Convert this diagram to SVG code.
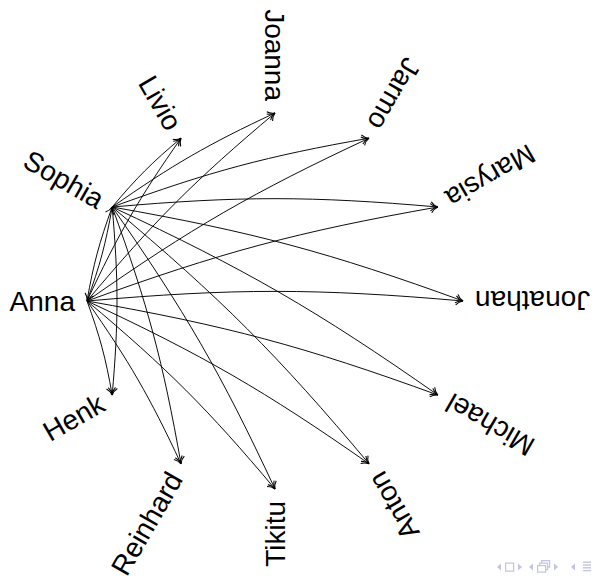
<svg xmlns="http://www.w3.org/2000/svg" width="596" height="581" viewBox="0 0 596 581">
<style>
.lbl{font-family:"Liberation Sans",Arial,Helvetica,sans-serif;font-size:28px;fill:#000;text-anchor:end}
.e{fill:none;stroke:#000;stroke-width:0.95;marker-end:url(#ah)}
.nav{fill:#c4c4e0;stroke:none}
.navs{fill:none;stroke:#c4c4e0;stroke-width:1.2}
</style>
<defs>
<marker id="ah" markerUnits="userSpaceOnUse" markerWidth="12" markerHeight="12" viewBox="-7 -5 9 10" refX="0" refY="0" orient="auto" overflow="visible">
<path d="M-5.8,-3.8 C-4.2,-1.7 -1.6,-0.4 0,0 C-1.6,0.4 -4.2,1.7 -5.8,3.8" fill="none" stroke="#000" stroke-width="0.9"/>
</marker>
</defs>
<rect width="596" height="581" fill="#fff"/>
<g id="edges">
<path class="e" d="M87,301 C93.62,263.48 99.16,242.80 112.19,207"/>
<path class="e" d="M87,301 C118.11,234.30 138.78,198.48 181,138.19"/>
<path class="e" d="M87,301 C153.91,221.26 195.26,179.91 275,113"/>
<path class="e" d="M87,301 C191.43,227.88 253.46,192.06 369,138.19"/>
<path class="e" d="M87,301 C220.61,252.37 297.78,231.69 437.81,207"/>
<path class="e" d="M87,301 C233.64,288.17 316.36,288.17 463,301"/>
<path class="e" d="M87,301 C227.03,325.69 304.20,346.37 437.81,395"/>
<path class="e" d="M87,301 C202.54,354.87 264.57,390.69 369,463.81"/>
<path class="e" d="M87,301 C166.74,367.91 208.09,409.26 275,489"/>
<path class="e" d="M87,301 C129.22,361.29 149.90,397.11 181,463.81"/>
<path class="e" d="M87,301 C100.03,336.80 105.57,357.48 112.19,395"/>
<path class="e" d="M112.19,207 C105.57,244.52 100.03,265.20 87,301"/>
<path class="e" d="M112.19,207 C136.68,177.82 151.82,162.68 181,138.19"/>
<path class="e" d="M112.19,207 C172.48,164.78 208.30,144.11 275,113"/>
<path class="e" d="M112.19,207 C210.00,171.40 266.49,156.26 369,138.19"/>
<path class="e" d="M112.19,207 C239.19,195.89 310.82,195.89 437.81,207"/>
<path class="e" d="M112.19,207 C252.22,231.69 329.39,252.37 463,301"/>
<path class="e" d="M112.19,207 C245.60,269.21 317.23,310.57 437.81,395"/>
<path class="e" d="M112.19,207 C221.11,298.40 277.60,354.89 369,463.81"/>
<path class="e" d="M112.19,207 C185.31,311.43 221.13,373.46 275,489"/>
<path class="e" d="M112.19,207 C147.79,304.81 162.93,361.30 181,463.81"/>
<path class="e" d="M112.19,207 C118.61,280.32 118.61,321.68 112.19,395"/>
</g>
<g id="n-anna" transform="translate(87,301)"><text class="lbl" x="-12" y="10">Anna</text></g>
<g id="n-sophia" transform="translate(112.19,207) rotate(30)"><text class="lbl" x="-12" y="10">Sophia</text></g>
<g id="n-livio" transform="translate(181,138.19) rotate(60)"><text class="lbl" x="-12" y="10">Livio</text></g>
<g id="n-joanna" transform="translate(275,113) rotate(90)"><text class="lbl" x="-12" y="10">Joanna</text></g>
<g id="n-jarmo" transform="translate(369,138.19) rotate(120)"><text class="lbl" x="-12" y="10">Jarmo</text></g>
<g id="n-marysia" transform="translate(437.81,207) rotate(150)"><text class="lbl" x="-12" y="10">Marysia</text></g>
<g id="n-jonathan" transform="translate(463,301) rotate(180)"><text class="lbl" x="-12" y="10">Jonathan</text></g>
<g id="n-michael" transform="translate(437.81,395) rotate(210)"><text class="lbl" x="-12" y="10">Michael</text></g>
<g id="n-anton" transform="translate(369,463.81) rotate(240)"><text class="lbl" x="-12" y="10">Anton</text></g>
<g id="n-tikitu" transform="translate(275,489) rotate(270)"><text class="lbl" x="-12" y="10">Tikitu</text></g>
<g id="n-reinhard" transform="translate(181,463.81) rotate(300)"><text class="lbl" x="-12" y="10">Reinhard</text></g>
<g id="n-henk" transform="translate(112.19,395) rotate(330)"><text class="lbl" x="-12" y="10">Henk</text></g>
<g id="nav">
<polygon class="nav" points="501,563.5 501,570.5 497,567"/>
<rect class="navs" x="505.6" y="563.1" width="8" height="8"/>
<polygon class="nav" points="518,563.5 518,570.5 522,567"/>
<polygon class="nav" points="533,563.5 533,570.5 529,567"/>
<rect class="navs" x="537.6" y="565.6" width="8" height="6.5"/>
<path class="navs" d="M539.6,565.6 V563.1 H547.6 V569.6 H545.6 M541.6,563.1 V560.6 H549.6 V567.1 H547.6"/>
<polygon class="nav" points="554,563.5 554,570.5 558,567"/>
<polygon class="nav" points="575,563.5 575,570.5 571,567"/>
<rect class="nav" x="583" y="561.5" width="8" height="1.4"/>
<rect class="nav" x="583" y="564.3" width="8" height="1.4"/>
<rect class="nav" x="583" y="567.1" width="8" height="1.4"/>
<rect class="nav" x="583" y="569.9" width="8" height="1.4"/>
</g>
</svg>
